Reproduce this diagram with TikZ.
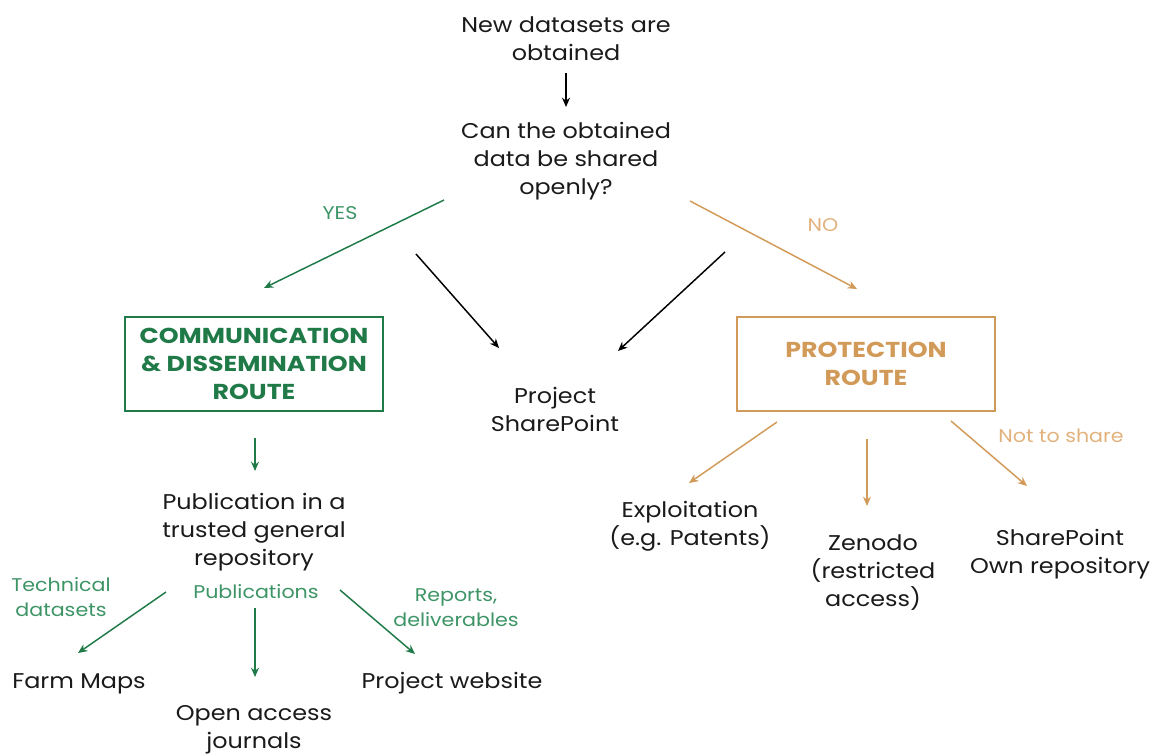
\documentclass[tikz,border=0pt]{standalone}
\usepackage{fontspec}
\setmainfont{Poppins}[FakeStretch=1.12]
\newfontfamily\routefont{Poppins}[FakeStretch=1.17]
\usetikzlibrary{arrows.meta}
\definecolor{routegreen}{HTML}{1F7A48}
\definecolor{labelgreen}{HTML}{3D9466}
\definecolor{routetan}{HTML}{D29A58}
\definecolor{labeltan}{HTML}{E2B27C}
\definecolor{ink}{HTML}{1A1A1A}
\tikzset{
  txt/.style={align=center, text=ink, font=\fontsize{16}{21}\selectfont, inner sep=0pt, yshift=-1.8pt},
  lbl/.style={align=center, font=\fontsize{13.8}{19}\selectfont, inner sep=0pt, yshift=-0.6pt},
  routebox/.style={draw, line width=1.3pt, minimum width=258*0.75pt, minimum height=94*0.75pt,
    align=center, font=\routefont\bfseries\fontsize{16.2}{21}\selectfont, inner sep=0pt},
  arr/.style={-{Stealth[length=7pt,width=6pt]}, line width=1.1pt},
  garr/.style={arr, draw=routegreen},
  tarr/.style={arr, draw=routetan},
  karr/.style={arr, draw=black},
}
\begin{document}
\begin{tikzpicture}[x=0.75pt, y=-0.75pt]
\useasboundingbox (0,0) rectangle (1158,754);

% top of the flow
\node[txt] (new) at (566,36) {New datasets are\\obtained};
\node[txt] (ask) at (566,159) {Can the obtained\\data be shared\\openly?};

% the two routes and the shared store
\node[routebox, draw=routegreen, text=routegreen] (comm) at (254,364) {COMMUNICATION\\\& DISSEMINATION\\ROUTE};
\node[routebox, draw=routetan, text=routetan] (prot) at (866,364) {PROTECTION\\ROUTE};
\node[txt] (sp) at (555,407) {Project\\SharePoint};

% open branch
\node[txt] (pub) at (254,530) {Publication in a\\trusted general\\repository};
\node[txt] (farm) at (79,681) {Farm Maps};
\node[txt] (oaj) at (254,727) {Open access\\journals};
\node[txt] (web) at (452,681) {Project website};

% protected branch
\node[txt] (expl) at (690,524) {Exploitation\\(e.g. Patents)};
\node[txt] (zen) at (873,570) {Zenodo\\(restricted\\access)};
\node[txt] (own) at (1060,552) {SharePoint\\Own repository};

% edge labels
\node[lbl, text=labelgreen] (yes) at (340,212) {YES};
\node[lbl, text=labeltan] (no) at (823,224) {NO};
\node[lbl, text=labelgreen] (tech) at (61,596) {Technical\\datasets};
\node[lbl, text=labelgreen] (pubs) at (256,591) {Publications};
\node[lbl, text=labelgreen] (rep) at (456,607) {Reports,\\deliverables};
\node[lbl, text=labeltan] (nts) at (1061,435) {Not to share};

% connector end points
\coordinate (yesA) at (444,200); \coordinate (yesB) at (264,288);
\coordinate (noA) at (690,201);  \coordinate (noB) at (857,289);
\coordinate (spA) at (416,254);  \coordinate (spB) at (499,348);
\coordinate (spC) at (725,252);  \coordinate (spD) at (618,351);
\coordinate (farmA) at (166,592); \coordinate (farmB) at (78,653);
\coordinate (webA) at (340,590);  \coordinate (webB) at (415,654);
\coordinate (explA) at (777,422); \coordinate (explB) at (689,483);
\coordinate (ownA) at (951,421);  \coordinate (ownB) at (1027,486);

% connectors
\draw[karr] (566,73) -- (566,107);
\draw[garr] (yesA) -- (yesB);
\draw[tarr] (noA) -- (noB);
\draw[karr] (spA) -- (spB);
\draw[karr] (spC) -- (spD);
\draw[garr] (255,438) -- (255,471);
\draw[garr] (farmA) -- (farmB);
\draw[garr] (255,608) -- (255,677);
\draw[garr] (webA) -- (webB);
\draw[tarr] (explA) -- (explB);
\draw[tarr] (867,439) -- (867,506);
\draw[tarr] (ownA) -- (ownB);
\end{tikzpicture}
\end{document}
